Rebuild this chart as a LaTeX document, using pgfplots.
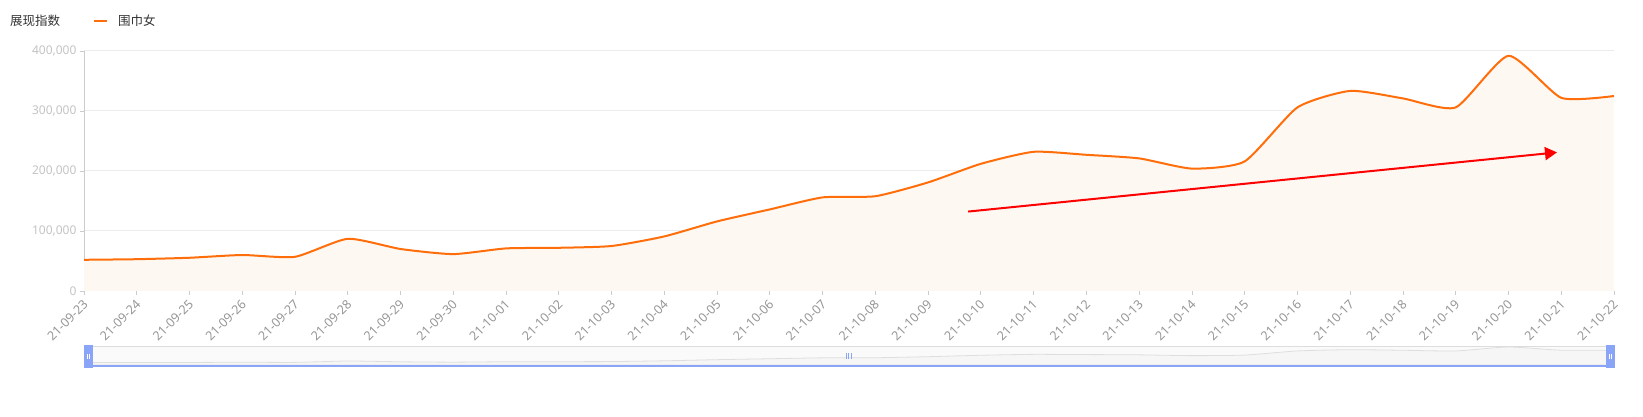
\documentclass[border=0pt]{standalone}
\usepackage{pgfplots}
\pgfplotsset{compat=1.18}
\usepackage{pgfplotstable}
\usepackage{fontspec}
\setmainfont{Noto Sans}
\newfontfamily\cjk{Noto Sans CJK SC}
\usetikzlibrary{arrows.meta}
\definecolor{lineor}{RGB}{255,110,10}
\definecolor{fillor}{RGB}{254,248,243}
\definecolor{gridc}{RGB}{236,236,236}
\definecolor{axc}{RGB}{204,204,204}
\definecolor{ytc}{RGB}{195,195,195}
\definecolor{xtc}{RGB}{150,150,150}
\definecolor{txtc}{RGB}{51,51,51}
\definecolor{hblue}{RGB}{138,164,248}
\definecolor{slbg}{RGB}{250,250,250}
\definecolor{slbd}{RGB}{221,221,221}
\definecolor{shl}{RGB}{222,222,222}
\definecolor{shf}{RGB}{246,246,246}
\pgfplotstableread{
x y
0 52000
1 53000
2 55400
3 60000
4 57000
5 87000
6 70000
7 61500
8 71000
9 72000
10 75000
11 91000
12 116000
13 136000
14 156000
15 158000
16 181000
17 212000
18 232000
19 227000
20 221000
21 204000
22 216000
23 306000
24 333500
25 321000
26 306000
27 392000
28 322000
29 325000
}\datatable
\begin{document}
\begin{tikzpicture}
\useasboundingbox (0pt,0pt) rectangle (1643pt,417pt);
\node[anchor=west, inner sep=0pt, text=txtc, font=\cjk\fontsize{12.5}{14}\selectfont] at (10pt,396pt) {展现指数};
\begin{axis}[
  at={(84pt,126pt)}, anchor=south west, scale only axis,
  width=1530pt, height=240pt,
  xmin=0, xmax=29, ymin=0, ymax=400000,
  axis x line=bottom, axis y line=left,
  axis line style={-, draw=axc, line width=1pt},
  tick align=outside, major tick length=4pt,
  tick style={draw=axc, line width=0.8pt},
  ymajorgrids, grid style={draw=gridc, line width=1pt},
  ytick={0,100000,200000,300000,400000},
  yticklabels={0,{100,000},{200,000},{300,000},{400,000}},
  scaled y ticks=false,
  yticklabel style={font=\fontsize{12}{14}\selectfont, text=ytc},
  xtick={0,...,29},
  xticklabels={21-09-23,21-09-24,21-09-25,21-09-26,21-09-27,21-09-28,21-09-29,21-09-30,21-10-01,21-10-02,21-10-03,21-10-04,21-10-05,21-10-06,21-10-07,21-10-08,21-10-09,21-10-10,21-10-11,21-10-12,21-10-13,21-10-14,21-10-15,21-10-16,21-10-17,21-10-18,21-10-19,21-10-20,21-10-21,21-10-22},
  xticklabel style={xshift=4pt, yshift=-5pt, rotate=45, anchor=east, font=\fontsize{12.5}{14}\selectfont, text=xtc},
  legend style={at={(0.0039,1.125)}, anchor=west, draw=none, fill=none,
    font=\cjk\fontsize{12.5}{14}\selectfont, text=txtc},
  clip=false,
]
\addplot[fill=fillor, draw=none, smooth, tension=0.35, forget plot] table[x=x,y=y]{\datatable} \closedcycle;
\addplot[lineor, line width=2pt, smooth, tension=0.35,
  legend image code/.code={\draw[lineor, line width=2pt] (0pt,0pt) -- (13pt,0pt); \path (21pt,0pt);}] table[x=x,y=y]{\datatable};
\addlegendentry{围巾女}
\draw[red, line width=2pt, -{Triangle[length=12pt,width=13pt]}] (axis cs:16.76,132400) -- (axis cs:27.92,231000);
\end{axis}
\fill[slbg] (84pt,52pt) rectangle (1614pt,70.3pt);
\draw[slbd, line width=1pt] (84pt,70.3pt) -- (1614pt,70.3pt);
\begin{axis}[
  at={(84pt,52pt)}, anchor=south west, scale only axis,
  width=1530pt, height=18pt, hide axis,
  xmin=0, xmax=29, ymin=0, ymax=392000,
]
\addplot[draw=shl, fill=shf, line width=0.8pt, smooth, tension=0.35] table[x=x,y=y]{\datatable} \closedcycle;
\end{axis}
\draw[hblue, line width=2pt] (84pt,51.3pt) -- (1614pt,51.3pt);
\fill[hblue] (84pt,48.7pt) rectangle (92.7pt,72pt);
\fill[hblue] (1606pt,48.7pt) rectangle (1615pt,72pt);
\draw[white, line width=0.7pt] (87.4pt,57.5pt) -- (87.4pt,62.5pt) (89.4pt,57.5pt) -- (89.4pt,62.5pt);
\draw[white, line width=0.7pt] (1609.5pt,57.5pt) -- (1609.5pt,62.5pt) (1611.5pt,57.5pt) -- (1611.5pt,62.5pt);
\draw[hblue, line width=0.7pt] (846pt,58pt) -- (846pt,64pt) (848.7pt,58pt) -- (848.7pt,64pt) (851.4pt,58pt) -- (851.4pt,64pt);
\end{tikzpicture}
\end{document}
